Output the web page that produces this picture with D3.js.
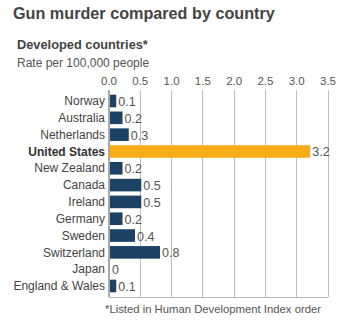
<!DOCTYPE html>
<html><head><meta charset="utf-8">
<script src="https://cdn.jsdelivr.net/npm/d3@7"></script>
<style>body{margin:0;background:#fff;} text{font-family:"Liberation Sans",Arial,sans-serif;}</style>
</head><body>
<svg id="c" width="341" height="330"></svg>
<script>
const countries = ["Norway","Australia","Netherlands","United States","New Zealand","Canada","Ireland","Germany","Sweden","Switzerland","Japan","England & Wales"];
const rates = [0.1,0.2,0.3,3.2,0.2,0.5,0.5,0.2,0.4,0.8,0,0.1];
const ticks = [0,0.5,1,1.5,2,2.5,3,3.5];
const highlight = "United States";

const svg = d3.select("#c");
const x = d3.scaleLinear().domain([0,3.5]).range([109,328]);
const y = d3.scaleBand().domain(countries).range([90,297]).paddingInner(0.25).paddingOuter(0.28);

svg.append("text").attr("x",13).attr("y",19).attr("font-size",16.2).attr("font-weight","bold").attr("fill","#444").text("Gun murder compared by country");
svg.append("text").attr("x",17).attr("y",49).attr("font-size",12.8).attr("font-weight","bold").attr("fill","#444").text("Developed countries*");
svg.append("text").attr("x",17).attr("y",67).attr("font-size",12).attr("fill","#555").text("Rate per 100,000 people");

// grid
svg.append("g").selectAll("line").data(ticks.slice(1)).join("line")
  .attr("x1",d=>x(d)).attr("x2",d=>x(d)).attr("y1",90).attr("y2",297)
  .attr("stroke","#bdbdbd").attr("stroke-width",1).attr("shape-rendering","crispEdges");
svg.append("line").attr("x1",x(0)).attr("x2",x(3.5)).attr("y1",297).attr("y2",297)
  .attr("stroke","#bdbdbd").attr("shape-rendering","crispEdges");
// tick labels
svg.append("g").selectAll("text").data(ticks).join("text")
  .attr("x",d=>x(d)).attr("y",85).attr("text-anchor","middle").attr("font-size",11.5).attr("fill","#555")
  .text(d=>d3.format(".1f")(d));

// bars
svg.append("g").selectAll("rect").data(countries).join("rect")
  .attr("x",x(0)+1).attr("y",d=>y(d)).attr("height",y.bandwidth())
  .attr("width",(d,i)=>Math.max(0,x(rates[i])-x(0)))
  .attr("fill",d=>d===highlight?"#f8ad17":"#1c4266");
// left axis line
svg.append("line").attr("x1",x(0)).attr("x2",x(0)).attr("y1",90).attr("y2",297)
  .attr("stroke","#aaa").attr("stroke-width",2);

// country labels
svg.append("g").selectAll("text").data(countries).join("text")
  .attr("x",105).attr("y",d=>y(d)+y.bandwidth()/2).attr("dy","0.35em").attr("text-anchor","end")
  .attr("font-size",12).attr("font-weight",d=>d===highlight?"bold":"normal")
  .attr("fill",d=>d===highlight?"#333":"#444").text(d=>d);
// value labels
svg.append("g").selectAll("text").data(countries).join("text")
  .attr("x",(d,i)=>x(rates[i])+3).attr("y",d=>y(d)+y.bandwidth()/2).attr("dy","0.4em")
  .attr("font-size",12.5).attr("fill","#555").text((d,i)=>rates[i]);

svg.append("text").attr("x",105).attr("y",313).attr("font-size",11.3).attr("fill","#555").text("*Listed in Human Development Index order");
</script>
</body></html>
